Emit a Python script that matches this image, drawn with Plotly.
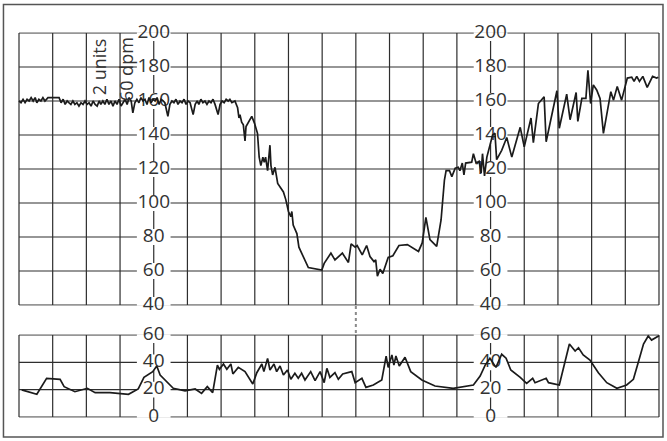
import plotly.graph_objects as go

# Fetal heart rate (bpm) against time (minutes, one grid column per minute)
fhr_time = [
    0.00, 0.06, 0.12, 0.18, 0.24, 0.30, 0.36, 0.42, 0.48, 0.53,
    0.59, 0.65, 0.71, 0.77, 0.86, 0.98, 1.10, 1.19, 1.25, 1.31,
    1.37, 1.43, 1.48, 1.54, 1.60, 1.66, 1.72, 1.78, 1.84, 1.90,
    1.96, 2.02, 2.08, 2.14, 2.20, 2.26, 2.32, 2.38, 2.43, 2.49,
    2.55, 2.61, 2.67, 2.73, 2.79, 2.85, 2.91, 2.97, 3.03, 3.09,
    3.15, 3.21, 3.27, 3.33, 3.38, 3.44, 3.50, 3.56, 3.62, 3.68,
    3.74, 3.80, 3.86, 3.92, 3.98, 4.04, 4.10, 4.16, 4.22, 4.28,
    4.33, 4.42, 4.48, 4.54, 4.60, 4.66, 4.72, 4.78, 4.84, 4.90,
    4.96, 5.02, 5.08, 5.17, 5.23, 5.29, 5.34, 5.40, 5.46, 5.52,
    5.58, 5.64, 5.70, 5.76, 5.82, 5.91, 5.97, 6.03, 6.09, 6.15,
    6.21, 6.26, 6.32, 6.41,
    6.49, 6.53, 6.56, 6.61, 6.66, 6.71, 6.74, 6.91, 6.99, 7.08,
    7.13, 7.18, 7.24, 7.28, 7.32, 7.35, 7.38, 7.45, 7.48, 7.53,
    7.60, 7.68, 7.85, 7.92, 8.00, 8.07, 8.10, 8.14, 8.25, 8.31,
    8.59, 8.99, 9.06, 9.26, 9.38, 9.60, 9.78, 9.86, 9.98, 10.04,
    10.19, 10.32, 10.42, 10.54, 10.59, 10.64, 10.72, 10.80, 10.96, 11.10,
    11.28, 11.53, 11.86, 11.97, 12.08, 12.20, 12.40, 12.53, 12.63, 12.68,
    12.78, 12.85, 12.95, 13.04, 13.09, 13.16, 13.21, 13.26, 13.44, 13.49,
    13.57, 13.66, 13.72, 13.76, 13.82, 13.89, 14.06, 14.13, 14.18, 14.33,
    14.48, 14.63, 14.88, 15.00, 15.20, 15.27, 15.42, 15.59, 15.65, 15.97,
    16.04, 16.26, 16.36, 16.54, 16.59, 16.71, 16.83, 16.89, 16.97, 17.05,
    17.15, 17.25, 17.35, 17.57, 17.65, 17.76, 17.89, 18.06, 18.19, 18.26,
    18.34, 18.42, 18.52, 18.65, 18.81, 18.93, 18.98,
]
fhr_bpm = [
    160, 159, 161, 159, 161, 160, 162, 160, 162, 159,
    161, 160, 162, 160, 162, 162, 162, 162, 159, 161,
    158, 160, 159, 158, 160, 158, 159, 157, 159, 158,
    160, 158, 159, 157, 160, 158, 157, 160, 158, 160,
    158, 161, 158, 160, 157, 160, 158, 161, 157, 159,
    161, 158, 162, 160, 153, 159, 161, 159, 162, 160,
    161, 158, 162, 159, 161, 160, 162, 158, 161, 160,
    159, 151, 158, 160, 159, 161, 158, 160, 159, 161,
    158, 160, 159, 152, 158, 160, 158, 161, 159, 160,
    158, 160, 159, 161, 158, 152, 158, 160, 159, 161,
    160, 161, 159, 160,
    156, 150, 152, 147.5, 146, 136.5, 145, 151, 147, 141,
    127, 122, 127, 124, 127, 123, 119, 134, 122, 116.5,
    121, 111.5, 106.5, 102, 95, 92, 95, 87, 82, 74,
    62, 60.5, 64.5, 70.5, 66.5, 70.5, 65, 76, 74, 75,
    69.5, 75, 68.5, 65.5, 66.5, 57, 61, 58.5, 68, 69,
    75, 75.5, 71.5, 76.5, 91.5, 78.5, 74.5, 90, 113.5, 119,
    119, 115.5, 120.5, 121, 119, 123.5, 116.5, 123.5, 124, 129,
    123.5, 124.5, 117.5, 129, 116, 127, 140, 141, 125.5, 131,
    138.5, 127, 144.5, 133, 150, 135.5, 158.5, 162.5, 136, 166,
    144, 164, 149, 165, 148, 161.5, 161.5, 178, 158.5, 169.5,
    166.5, 161.5, 141, 165.5, 160.5, 168.5, 160.5, 173.5, 174, 171.5,
    174.5, 171.5, 174.5, 168, 174.5, 173.5, 174,
]

# Uterine activity (units) against time (minutes)
ua_time = [
    0.08, 0.53, 0.82, 1.22, 1.34, 1.66, 2.03, 2.26, 2.70, 3.25,
    3.54, 3.71, 3.97, 4.09, 4.19, 4.33, 4.58, 4.93, 5.23, 5.42,
    5.59, 5.75, 5.89, 5.95, 6.07, 6.17, 6.29, 6.35, 6.51, 6.71,
    6.94, 7.06, 7.21, 7.27, 7.38, 7.45, 7.57, 7.65, 7.75, 7.85,
    7.97, 8.07, 8.19, 8.29, 8.39, 8.49, 8.66, 8.79, 8.94, 9.06,
    9.14, 9.23, 9.38, 9.48, 9.61, 9.88, 9.98, 10.18, 10.30, 10.52,
    10.77, 10.90, 10.96, 11.07, 11.13, 11.19, 11.29, 11.46, 11.63, 11.96,
    12.35, 12.89, 13.49, 13.69, 13.84, 13.98, 14.16, 14.33, 14.46, 14.60,
    14.88, 15.07, 15.25, 15.32, 15.65, 15.72, 16.04, 16.34, 16.51, 16.61,
    16.75, 16.95, 17.20, 17.45, 17.75, 18.04, 18.24, 18.39, 18.54, 18.68,
    18.78, 19.00,
]
ua_units = [
    19.8, 16.6, 28.3, 27.6, 22.2, 18.5, 21, 17.8, 17.8, 16.6,
    20.5, 29, 33.2, 37.3, 30.7, 27.1, 21, 19.2, 20.5, 17.3,
    22.2, 17.8, 38, 34.9, 38.8, 34.9, 38.8, 31.5, 36.3, 33.2,
    24.1, 32.4, 38.8, 33.2, 42.9, 34.4, 38.8, 33.2, 37.3, 30.7,
    34.4, 27.6, 32, 28.3, 32, 27.1, 33.2, 26.6, 33.2, 25.1,
    35.6, 29, 32.4, 27.6, 31.5, 33.2, 25.1, 28.3, 21.7, 23.4,
    27.1, 44.6, 36.3, 45.4, 38, 44.6, 37.3, 43.7, 33.2, 27.1,
    22.7, 21, 23.4, 30, 38, 43, 36.3, 45.9, 43, 34.4,
    29, 24.6, 28.3, 25.1, 28.3, 25.1, 23.4, 53.4, 48.3, 50.7,
    45.4, 41.7, 32.4, 25.1, 21, 23.4, 27.6, 40.5, 53.4, 59.3,
    56.3, 59.5,
]

# Scale labels printed inside the grid
fhr_ticks = [200, 180, 160, 140, 120, 100, 80, 60, 40]
ua_ticks = [60, 40, 20, 0]
label_columns = [4, 14]
n_columns = 19
marker_column = 10

GRID = "#2e2e2e"
TEXT = "#333333"
FONT = "Open Sans"

fig = go.Figure()

# scale labels first, so the recordings are drawn on top of them
for ticks, xa, ya in [(fhr_ticks, "x", "y"), (ua_ticks, "x2", "y2")]:
    xs, ys, ts = [], [], []
    for c in label_columns:
        for v in ticks:
            xs.append(c)
            ys.append(v)
            ts.append(str(v))
    fig.add_trace(go.Scatter(
        x=xs, y=ys, text=ts, mode="text", xaxis=xa, yaxis=ya,
        textposition="middle center", cliponaxis=False, hoverinfo="skip",
        textfont=dict(family=FONT, size=19, color=TEXT),
    ))

fig.add_trace(go.Scatter(
    x=fhr_time, y=fhr_bpm, mode="lines", xaxis="x", yaxis="y",
    line=dict(color="#1b1b1b", width=1.7), hoverinfo="skip",
))
fig.add_trace(go.Scatter(
    x=ua_time, y=ua_units, mode="lines", xaxis="x2", yaxis="y2",
    line=dict(color="#1b1b1b", width=1.7), hoverinfo="skip",
))

shapes = []
# grid of both panels
for xa, ya, ticks in [("x", "y", fhr_ticks), ("x2", "y2", ua_ticks)]:
    lo, hi = min(ticks), max(ticks)
    for c in range(n_columns + 1):
        shapes.append(dict(type="line", xref=xa, yref=ya, x0=c, x1=c, y0=lo, y1=hi,
                           line=dict(color=GRID, width=1.2), layer="below"))
    for v in ticks:
        shapes.append(dict(type="line", xref=xa, yref=ya, x0=0, x1=n_columns, y0=v, y1=v,
                           line=dict(color=GRID, width=1.2), layer="below"))
# white patches that break the grid behind the labels
for xa, ya, ticks, half in [("x", "y", fhr_ticks, 4.7), ("x2", "y2", ua_ticks, 5.8)]:
    for c in label_columns:
        for v in ticks:
            shapes.append(dict(type="rect", xref=xa, yref=ya,
                               x0=c - 0.5, x1=c + 0.5, y0=v - half, y1=v + half,
                               fillcolor="white", line=dict(width=0), layer="below"))
# event marker between the panels
shapes.append(dict(type="line", xref="x", yref="paper", x0=marker_column, x1=marker_column,
                   y0=0.2449, y1=0.3061, line=dict(color="#8a8a8a", width=2, dash="3px,3px")))
# outer frame
shapes.append(dict(type="rect", xref="paper", yref="paper", x0=0.0052, x1=0.9940,
                   y0=0.0091, y1=0.9898, line=dict(color="#555555", width=1.5)))

annotations = [
    dict(text="2 units", xref="x", yref="y", x=2.40, y=180.3, textangle=-90,
         showarrow=False, font=dict(family=FONT, size=18, color=TEXT)),
    dict(text="60 dpm", xref="x", yref="y", x=3.16, y=179.0, textangle=-90,
         showarrow=False, font=dict(family=FONT, size=18, color=TEXT)),
]

fig.update_layout(
    width=667, height=441,
    margin=dict(l=0, r=0, t=0, b=0),
    paper_bgcolor="white", plot_bgcolor="white",
    showlegend=False,
    shapes=shapes, annotations=annotations,
    xaxis=dict(domain=[0.02697, 0.98951], range=[-0.03, 19.03], visible=False, anchor="y"),
    yaxis=dict(domain=[0.30646, 0.92710], range=[39.5, 200.5], visible=False, anchor="x"),
    xaxis2=dict(domain=[0.02697, 0.98951], range=[-0.03, 19.03], visible=False,
                anchor="y2", matches="x"),
    yaxis2=dict(domain=[0.05256, 0.24222], range=[-0.6, 60.6], visible=False, anchor="x2"),
)

fig.write_html("out.html")
